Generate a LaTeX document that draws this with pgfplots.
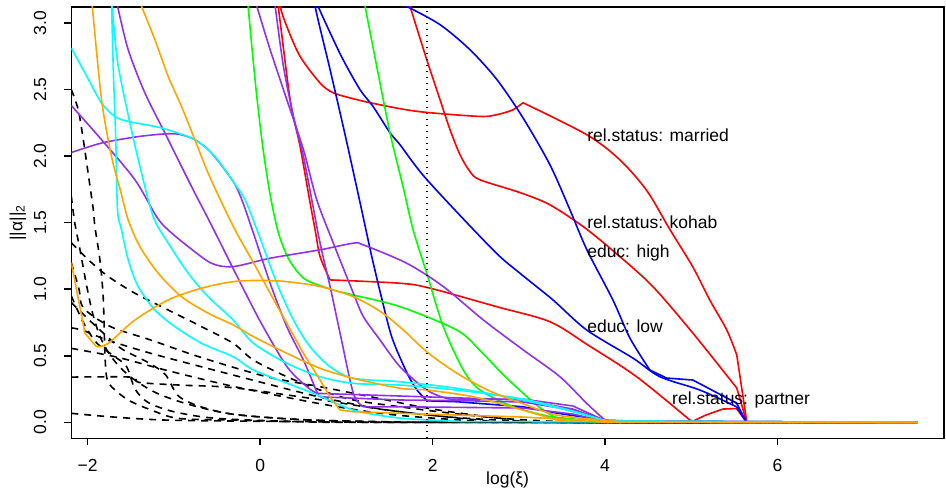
\documentclass[border=0pt]{standalone}
\usepackage{fontspec}
\setmainfont{Liberation Sans}
\usepackage{pgfplots}
\pgfplotsset{compat=1.18}
\definecolor{rred}{RGB}{255,0,0}
\definecolor{rblue}{RGB}{0,0,255}
\definecolor{rgreen}{RGB}{0,255,0}
\definecolor{rpurple}{RGB}{145,50,235}
\definecolor{rcyan}{RGB}{0,255,255}
\definecolor{rorange}{RGB}{255,165,0}
\begin{document}
\begin{tikzpicture}[font=\fontsize{8.75bp}{10.5bp}\selectfont]
\begin{axis}[name=ax, scale only axis, width=436.4bp, height=215.7bp,
  xmin=-2.19, xmax=7.93, ymin=-0.12, ymax=3.12,
  axis line style={line width=0.75bp},
  tick style={line width=0.75bp, black},
  tick align=outside, major tick length=3.5bp,
  xtick pos=bottom, ytick pos=left,
  xtick={-2,0,2,4,6}, xticklabels={−2,0,2,4,6},
  ytick={0,0.5,1,1.5,2,2.5,3},
  yticklabels={0.0,0.5,1.0,1.5,2.0,2.5,3.0},
  xticklabel style={anchor=north, inner sep=0pt, yshift=-6.85bp},
  yticklabel style={xshift=-8.8bp, rotate=90, anchor=south, inner sep=0pt},
  xlabel={log(ξ)}, ylabel={||α||\textsubscript{2}},
  xlabel style={at={(axis description cs:0.5,-0.0969)}, anchor=center, inner sep=0pt},
  ylabel style={at={(axis description cs:-0.0612,0.5)}, anchor=center, inner sep=0pt},
  every axis plot/.append style={line width=0.8bp, line join=round},
  kd/.style={black, dash pattern=on 3.5bp off 3bp, smooth, tension=0.5},
  sm/.style={smooth, tension=0.5},
]
% dashed (black) paths
\addplot[kd] coordinates {(-2.19,2.50)(-2.11,2.35)(-2.05,2.12)(-1.99,1.85)(-1.935,1.60)(-1.916,1.47)(-1.858,1.22)(-1.82,0.94)(-1.80,0.52)(-1.78,0.34)(-1.723,0.268)(-1.53,0.168)(-1.26,0.092)(-0.95,0.03)(-0.31,0.017)(0.5,0.005)(2,0)(7.62,0)};
\addplot[kd] coordinates {(-2.19,1.70)(-2.15,1.50)(-2.09,1.30)(-2.01,1.02)(-1.935,0.80)(-1.84,0.62)(-1.7,0.47)(-1.5,0.34)(-1.2,0.22)(-0.8,0.13)(-0.3,0.06)(0.5,0.02)(1.5,0.003)(2,0)(7.62,0)};
\addplot[kd] coordinates {(-2.19,1.35)(-1.99,1.22)(-1.76,1.095)(-1.452,0.97)(-1.066,0.844)(-0.68,0.719)(-0.313,0.594)(-0.078,0.468)(0.309,0.343)(0.695,0.243)(1.08,0.168)(1.622,0.117)(2.2,0.07)(2.8,0.03)(3.5,0.005)(4,0)(7.62,0)};
\addplot[kd] coordinates {(-2.19,1.20)(-2.1,1.0)(-2.05,0.86)(-1.738,0.72)(-1.275,0.62)(-0.695,0.49)(0.077,0.343)(0.695,0.268)(1.3,0.19)(2,0.1)(2.8,0.03)(3.5,0)(7.62,0)};
\addplot[kd] coordinates {(-2.19,0.71)(-2.05,0.69)(-1.78,0.62)(-1.275,0.52)(-0.695,0.42)(0.077,0.29)(0.695,0.19)(1.4,0.1)(2.2,0.04)(3,0.01)(3.5,0)(7.62,0)};
\addplot[kd] coordinates {(-2.19,0.556)(-1.66,0.49)(-1.08,0.39)(-0.31,0.27)(0.695,0.14)(1.5,0.06)(2.5,0.01)(3,0)(7.62,0)};
\addplot[kd] coordinates {(-2.19,0.34)(-1.5,0.34)(-1.4,0.30)(-0.93,0.28)(-0.31,0.26)(0.695,0.17)(1.5,0.09)(2.5,0.02)(3.2,0)(7.62,0)};
\addplot[kd] coordinates {(-2.19,0.068)(-1.7,0.04)(-1.08,0.017)(0,0.008)(0.7,0.005)(2,0)(7.62,0)};
\addplot[kd] coordinates {(-2.19,0.95)(-2.05,0.75)(-1.9,0.6)(-1.7,0.5)(-1.55,0.42)(-1.45,0.25)(-1.3,0.15)(-1.0,0.08)(-0.5,0.03)(0.5,0.005)(1.5,0)(7.62,0)};
\addplot[kd] coordinates {(-2.19,0.9)(-2.0,0.78)(-1.8,0.66)(-1.6,0.55)(-1.3,0.45)(-1.1,0.36)(-0.95,0.2)(-0.7,0.12)(-0.3,0.06)(0.5,0.02)(1.5,0.005)(2.5,0)(7.62,0)};
% red: married
\addplot[rred, sm] coordinates {(0.209,3.30)(0.232,3.126)(0.309,2.974)(0.463,2.749)(0.695,2.549)(0.846,2.476)(1.078,2.431)(1.275,2.401)(1.622,2.356)(1.932,2.328)(2.549,2.298)(2.743,2.311)(2.932,2.348)(3.047,2.401)};
\addplot[rred, sm] coordinates {(3.047,2.401)(3.789,2.160)(4.171,1.972)(4.484,1.74)(4.75,1.45)(5.017,1.168)(5.214,0.919)(5.411,0.694)(5.527,0.506)};
\addplot[rred] coordinates {(5.527,0.506)(5.643,0.002)(7.62,0)};
% red: kohab
\addplot[rred, sm] coordinates {(1.715,3.175)(1.738,3.125)(1.932,2.724)(2.086,2.423)(2.202,2.198)(2.318,2.010)(2.433,1.884)(2.549,1.822)(3.013,1.726)(3.360,1.634)(3.766,1.461)(4.171,1.245)(4.554,1.020)(5.017,0.671)(5.527,0.258)};
\addplot[rred] coordinates {(5.527,0.258)(5.643,0)(7.62,0)};
% red: partner
\addplot[rred, sm] coordinates {(0.185,3.175)(0.209,3.125)(0.348,2.423)(0.463,2.072)(0.579,1.65)(0.637,1.448)(0.695,1.245)(0.811,1.070)};
\addplot[rred, sm] coordinates {(0.811,1.070)(1.622,1.045)(1.970,1.008)(2.743,0.869)(3.360,0.756)(3.801,0.581)(4.365,0.343)(5.006,0.005)};
\addplot[rred] coordinates {(5.006,0.005)(5.168,0.055)(5.365,0.100)(5.524,0.104)(5.640,0.002)(7.62,0)};
% blue
\addplot[rblue, sm] coordinates {(1.50,3.19)(1.700,3.125)(2.086,2.987)(2.433,2.799)(2.746,2.574)(3.047,2.288)(3.360,1.935)(3.592,1.597)(3.789,1.296)(4.090,0.920)(4.287,0.634)(4.519,0.393)};
\addplot[rblue] coordinates {(4.519,0.393)(4.713,0.333)(5.017,0.318)(5.524,0.145)(5.640,0.002)(7.62,0)};
\addplot[rblue, sm] coordinates {(0.649,3.175)(0.672,3.125)(0.811,2.927)(0.962,2.724)(1.159,2.498)(1.309,2.373)(1.506,2.175)(1.622,2.085)(1.935,1.822)(2.700,1.296)(3.013,1.120)(3.395,0.920)(3.786,0.694)(4.322,0.483)(4.635,0.343)(5.098,0.243)(5.524,0.117)};
\addplot[rblue] coordinates {(5.524,0.117)(5.640,0.002)(7.62,0)};
\addplot[rblue, sm] coordinates {(0.614,3.30)(0.637,3.125)(0.811,2.649)(0.985,2.160)(1.159,1.649)(1.298,1.235)(1.414,0.920)(1.530,0.634)(1.703,0.371)(1.819,0.243)(1.935,0.162)};
\addplot[rblue] coordinates {(1.935,0.162)(2.279,0.155)(3.047,0.117)(3.438,0.070)(3.975,0.017)(4.52,0.005)(7.62,0)};
% green
\addplot[rgreen, sm] coordinates {(-0.15,3.20)(-0.139,3.123)(-0.093,2.799)(-0.035,2.424)(0.035,2.047)(0.116,1.709)(0.209,1.430)(0.324,1.235)(0.463,1.108)(0.579,1.055)(0.846,0.995)(1.078,0.957)(1.622,0.869)(2.279,0.694)(2.55,0.54)(2.80,0.37)(3.047,0.22)(3.244,0.11)(3.438,0.03)};
\addplot[rgreen] coordinates {(3.438,0.03)(4.01,0.002)(7.62,0)};
\addplot[rgreen, sm] coordinates {(1.205,3.175)(1.217,3.125)(1.352,2.674)(1.506,2.173)(1.657,1.771)(1.773,1.448)(1.932,1.120)(2.124,0.719)(2.356,0.393)(2.549,0.243)(2.935,0.117)(3.360,0.042)};
\addplot[rgreen] coordinates {(3.360,0.042)(4.01,0.002)(7.62,0)};
% purple
\addplot[rpurple, sm] coordinates {(-1.680,3.175)(-1.654,3.125)(-1.530,2.799)(-1.336,2.474)(-1.104,2.173)(-0.912,1.922)(-0.757,1.722)(-0.603,1.53)(-0.463,1.35)(-0.270,1.10)(0.0,0.76)(0.309,0.42)(0.541,0.268)(0.657,0.218)};
\addplot[rpurple] coordinates {(0.657,0.218)(1.622,0.198)(3.047,0.168)(3.627,0.100)(4.01,0.01)(7.62,0)};
\addplot[rpurple, sm] coordinates {(-2.19,2.38)(-1.839,2.123)(-1.452,1.822)(-1.202,1.546)(-1.066,1.445)(-0.834,1.320)(-0.564,1.195)(-0.313,1.170)(0.116,1.233)(0.695,1.296)(1.081,1.346)(1.197,1.333)(1.700,1.195)(2.124,1.020)(2.588,0.769)(3.051,0.544)(3.476,0.343)(3.786,0.143)(4.01,0.01)};
\addplot[rpurple] coordinates {(4.01,0.01)(7.62,0)};
\addplot[rpurple, sm] coordinates {(-2.19,2.027)(-1.839,2.098)(-1.452,2.143)(-1.144,2.165)(-0.950,2.165)(-0.757,2.123)(-0.564,2.023)(-0.313,1.809)(-0.212,1.671)(-0.078,1.421)(0.116,1.045)(0.309,0.719)(0.502,0.468)(0.657,0.230)(0.695,0.192)};
\addplot[rpurple] coordinates {(0.695,0.192)(1.622,0.168)(2.279,0.164)(3.047,0.153)(3.627,0.092)(4.01,0.01)(7.62,0)};
\addplot[rpurple, sm] coordinates {(-0.058,3.175)(-0.038,3.125)(0.116,2.799)(0.309,2.424)(0.502,2.048)(0.657,1.671)(0.849,1.346)(1.081,0.970)(1.197,0.794)(1.390,0.619)(1.622,0.418)(1.932,0.243)(2.163,0.180)(2.279,0.175)};
\addplot[rpurple] coordinates {(2.279,0.175)(3.047,0.175)(3.627,0.123)(4.01,0.01)(7.62,0)};
\addplot[rpurple, sm] coordinates {(0.162,3.175)(0.174,3.125)(0.270,2.674)(0.386,2.298)(0.502,1.997)(0.599,1.671)(0.695,1.346)(0.811,1.020)(0.927,0.669)(1.081,0.218)(1.197,0.117)};
\addplot[rpurple] coordinates {(1.197,0.117)(1.622,0.117)(3.047,0.108)(3.627,0.062)(4.01,0.006)(7.62,0)};
% cyan
\addplot[rcyan, sm] coordinates {(-2.19,2.812)(-2.031,2.624)(-1.839,2.398)(-1.684,2.298)(-1.530,2.260)(-1.144,2.211)(-0.757,2.123)(-0.525,1.997)(-0.313,1.809)(-0.174,1.671)(-0.038,1.448)(0.194,1.045)(0.386,0.769)(0.579,0.568)(0.811,0.418)(1.081,0.331)(1.622,0.305)(2.279,0.256)(3.047,0.168)(3.627,0.080)(4.01,0.01)};
\addplot[rcyan] coordinates {(4.01,0.01)(7.62,0)};
\addplot[rcyan, sm] coordinates {(-1.732,3.175)(-1.723,3.125)(-1.703,2.649)(-1.674,2.123)(-1.654,1.596)(-1.607,1.445)(-1.530,1.220)(-1.414,1.020)(-1.220,0.844)(-0.988,0.719)(-0.680,0.594)(-0.313,0.493)(-0.078,0.393)(0.309,0.295)(0.695,0.198)(1.081,0.092)(1.622,0.032)(2.352,0.006)};
\addplot[rcyan] coordinates {(2.352,0.006)(7.62,0)};
\addplot[rcyan, sm] coordinates {(-1.72,3.175)(-1.70,3.0)(-1.645,2.674)(-1.510,2.248)(-1.394,1.922)(-1.240,1.546)(-1.066,1.346)(-0.834,1.120)(-0.603,0.944)(-0.313,0.769)(-0.078,0.594)(0.309,0.444)(0.695,0.343)(1.081,0.293)(1.622,0.280)(2.279,0.243)(3.047,0.175)(3.627,0.085)(4.01,0.01)};
\addplot[rcyan] coordinates {(4.01,0.01)(7.62,0)};
% orange
\addplot[rorange, sm] coordinates {(-1.958,3.175)(-1.947,3.125)(-1.839,2.424)(-1.723,1.997)(-1.622,1.747)(-1.530,1.520)(-1.394,1.320)(-1.182,1.120)(-0.912,0.944)(-0.603,0.820)(-0.313,0.732)(-0.078,0.644)(0.309,0.519)(0.695,0.406)(1.081,0.331)(1.622,0.256)(1.932,0.243)(2.472,0.192)(3.047,0.092)(3.438,0.017)};
\addplot[rorange] coordinates {(3.438,0.017)(4.01,0.002)(7.62,0)};
\addplot[rorange, sm] coordinates {(-1.391,3.175)(-1.375,3.125)(-1.220,2.874)(-1.066,2.598)(-0.912,2.373)(-0.757,2.123)(-0.603,1.872)(-0.409,1.60)(-0.270,1.42)(-0.078,1.20)(0.116,0.97)(0.309,0.744)(0.502,0.519)(0.695,0.318)(0.811,0.192)(0.927,0.092)};
\addplot[rorange] coordinates {(0.927,0.092)(1.081,0.080)(1.622,0.068)(3.047,0.040)(4.01,0.006)(7.62,0)};
\addplot[rorange] coordinates {(-2.19,1.20)(-2.031,0.669)(-1.897,0.568)};
\addplot[rorange, sm] coordinates {(-1.897,0.568)(-1.761,0.594)(-1.452,0.769)(-1.066,0.920)(-0.680,1.008)(-0.313,1.057)(0.0,1.066)(0.309,1.057)(0.695,1.020)(1.081,0.944)(1.4,0.83)(1.65,0.70)(1.932,0.53)(2.279,0.37)(2.665,0.235)(3.047,0.14)(3.438,0.055)(3.975,0.017)};
\addplot[rorange] coordinates {(3.975,0.017)(4.2,0.003)(7.62,0)};
% selected xi
\addplot[black, line width=0.75bp, dash pattern=on 0.75bp off 2.25bp] coordinates {(1.932,-0.12)(1.932,3.12)};
% labels
\node[anchor=west, inner sep=0pt] at (axis cs:3.789,2.160) {rel.status: married};
\node[anchor=west, inner sep=0pt] at (axis cs:3.789,1.506) {rel.status: kohab};
\node[anchor=west, inner sep=0pt] at (axis cs:3.789,1.273) {educ: high};
\node[anchor=west, inner sep=0pt] at (axis cs:3.789,0.724) {educ: low};
\node[anchor=west, inner sep=0pt] at (axis cs:4.774,0.168) {rel.status: partner};
\end{axis}
\pgfresetboundingbox
\path ([xshift=-35.65bp,yshift=-26.35bp]ax.south west) rectangle ([xshift=1bp,yshift=3.5bp]ax.north east);
\end{tikzpicture}
\end{document}
